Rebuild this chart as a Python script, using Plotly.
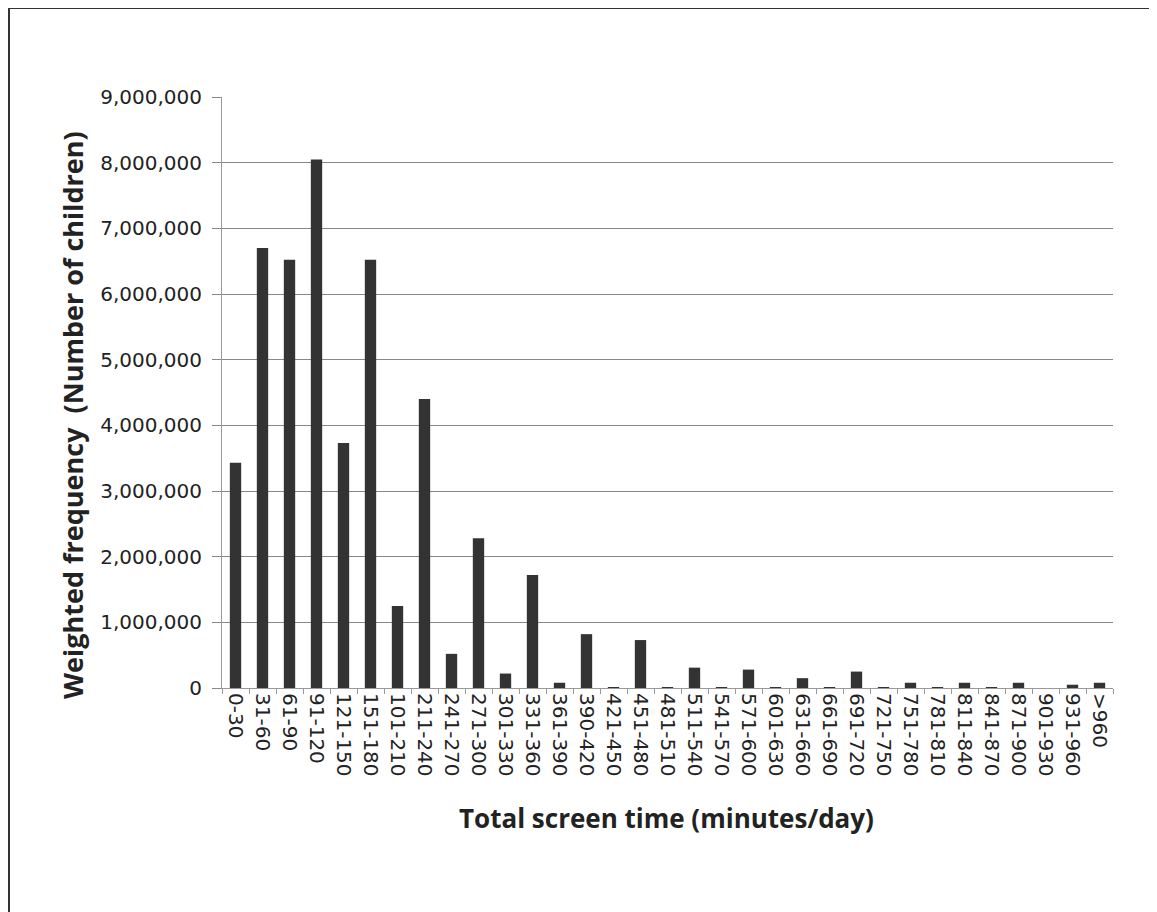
import plotly.graph_objects as go

categories = ["0-30", "31-60", "61-90", "91-120", "121-150", "151-180", "101-210", "211-240",
              "241-270", "271-300", "301-330", "331-360", "361-390", "390-420", "421-450",
              "451-480", "481-510", "511-540", "541-570", "571-600", "601-630", "631-660",
              "661-690", "691-720", "721-750", "751-780", "781-810", "811-840", "841-870",
              "871-900", "901-930", "931-960", ">960"]
values = [3430000, 6700000, 6520000, 8050000, 3730000, 6520000, 1250000, 4400000,
          520000, 2280000, 220000, 1720000, 80000, 820000, 15000,
          730000, 15000, 310000, 15000, 280000, 15000, 150000,
          15000, 250000, 15000, 80000, 15000, 80000, 15000,
          80000, 0, 50000, 80000]
y_ticks = [0, 1000000, 2000000, 3000000, 4000000, 5000000, 6000000, 7000000, 8000000, 9000000]
x_title = "Total screen time (minutes/day)"
y_title = "Weighted frequency  (Number of children)"

OFF = 8  # page body margin
W, H = 1157 - OFF, 912 - OFF
L = 222 - OFF
T = 97 - OFF
R = W - (1113 - OFF)
B = H - (688 - OFF)
pw, ph = W - L - R, H - T - B

fig = go.Figure(go.Bar(x=categories, y=values, marker=dict(color="#333333", line=dict(width=0))))

def px_x(p):
    return (p - OFF - L) / pw

def px_y(p):
    return (H - B - (p - OFF)) / ph

# frame: top and left lines
fig.add_shape(type="line", xref="paper", yref="paper",
              x0=px_x(9), x1=px_x(1160), y0=px_y(8), y1=px_y(8),
              line=dict(color="#333333", width=2))
fig.add_shape(type="line", xref="paper", yref="paper",
              x0=px_x(9), x1=px_x(9), y0=px_y(8), y1=px_y(915),
              line=dict(color="#333333", width=2))

fig.add_annotation(text="<b>" + x_title + "</b>", xref="paper", yref="paper",
                   x=px_x(666), y=px_y(818), xanchor="center", yanchor="middle",
                   showarrow=False, font=dict(size=26, family="Open Sans, sans-serif", color="#222222"))
fig.add_annotation(text="<b>" + y_title + "</b>", xref="paper", yref="paper",
                   x=px_x(72), y=px_y(415), xanchor="center", yanchor="middle", textangle=-90,
                   showarrow=False, font=dict(size=27, family="Open Sans, sans-serif", color="#222222"))

fig.update_layout(
    width=W, height=H,
    margin=dict(l=L, r=R, t=T, b=B),
    paper_bgcolor="white", plot_bgcolor="white",
    bargap=0.58,
    showlegend=False,
    font=dict(family="DejaVu Sans, sans-serif", color="#222222"),
)
fig.update_xaxes(
    type="category",
    tickangle=90,
    tickfont=dict(size=20, family="DejaVu Sans, sans-serif", color="#222222"),
    showline=True, linecolor="#999999", linewidth=1,
    ticks="outside", ticklen=5, tickcolor="#999999",
    tickson="boundaries",
    showgrid=False,
)
fig.update_yaxes(
    range=[0, 9000000],
    tickvals=y_ticks,
    tickformat=",d",
    tickfont=dict(size=20, family="DejaVu Sans, sans-serif", color="#222222"),
    showline=True, linecolor="#999999", linewidth=1,
    ticks="outside", ticklen=9, tickcolor="#888888",
    ticklabelstandoff=6,
    showgrid=True, gridcolor="#888888", gridwidth=1,
    zeroline=False,
)

fig.write_html("out.html")
